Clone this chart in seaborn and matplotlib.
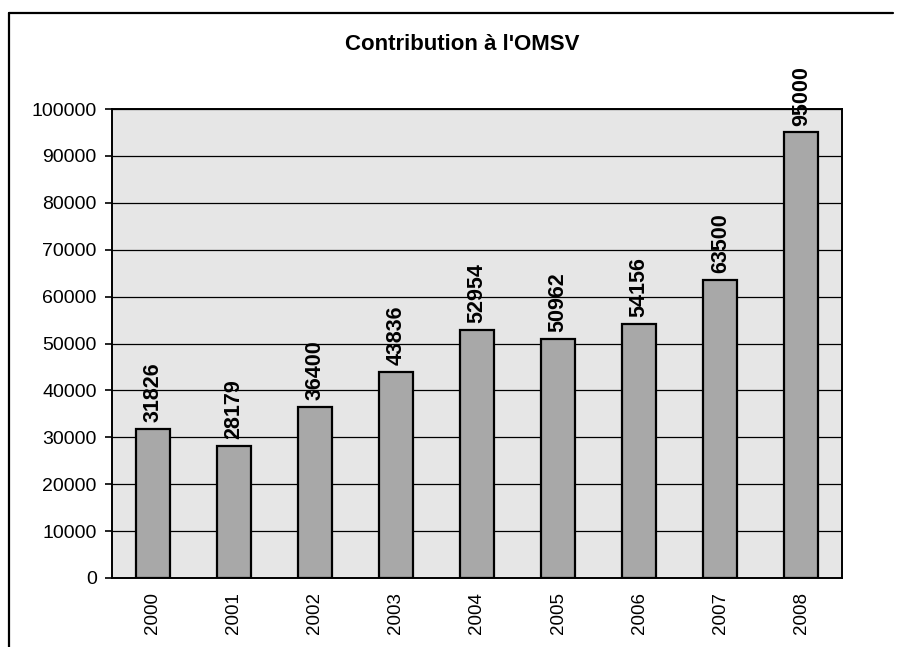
import pandas as pd
import matplotlib.pyplot as plt
import seaborn as sns
from matplotlib.lines import Line2D

years = ['2000', '2001', '2002', '2003', '2004', '2005', '2006', '2007', '2008']
contributions = [31826, 28179, 36400, 43836, 52954, 50962, 54156, 63500, 95000]
yticks = [0, 10000, 20000, 30000, 40000, 50000, 60000, 70000, 80000, 90000, 100000]


def plot_contributions():
    df = pd.DataFrame({'Year': years, 'Contribution': contributions})

    sns.set_style('white')
    plt.rcParams['font.family'] = ['Liberation Sans', 'DejaVu Sans']
    plt.rcParams['text.color'] = 'black'
    plt.rcParams['xtick.color'] = 'black'
    plt.rcParams['ytick.color'] = 'black'

    fig = plt.figure(figsize=(8.97, 6.47), dpi=100)
    ax = fig.add_axes([112 / 897, 69 / 647, 730 / 897, 469 / 647])
    ax.set_facecolor('#e6e6e6')

    sns.barplot(x='Year', y='Contribution', data=df, color='#a8a8a8',
                saturation=1, width=0.42, edgecolor='black', linewidth=1.6, ax=ax)

    # value labels above the bars, rotated
    for i, v in enumerate(contributions):
        ax.annotate(str(v), xy=(i, v), xytext=(0, 5), textcoords='offset points',
                    rotation=90, ha='center', va='bottom', color='black',
                    fontsize=15.5, fontweight='bold', annotation_clip=False)

    ax.set_ylim(0, 100000)
    ax.set_xlim(-0.5, len(years) - 0.5)
    ax.set_yticks(yticks)
    ax.set_yticklabels([str(t) for t in yticks], fontsize=14)
    ax.yaxis.grid(True, color='black', linewidth=0.9)
    ax.set_axisbelow(True)

    # year labels at the bars, tick marks between categories
    ax.set_xticks(range(len(years)))
    ax.set_xticklabels(years, rotation=90, fontsize=13.5)
    ax.set_xticks([i + 0.5 for i in range(-1, len(years))], minor=True)
    ax.tick_params(axis='x', which='major', length=0, pad=10)
    ax.tick_params(axis='x', which='minor', direction='out', length=5, width=1.2, color='black')
    ax.tick_params(axis='y', direction='out', length=5, width=1.2, color='black', left=True, pad=6)

    ax.set_xlabel('')
    ax.set_ylabel('')
    for side in ['left', 'bottom', 'right', 'top']:
        ax.spines[side].set_visible(True)
        ax.spines[side].set_color('black')
        ax.spines[side].set_linewidth(1.4)

    fig.text(462 / 897, 1 - 45 / 647, "Contribution à l'OMSV", ha='center', va='center',
             fontsize=16, fontweight='bold', color='black')

    # scanned frame around the chart (left and top edges)
    fig.add_artist(Line2D([9 / 897, 9 / 897], [0, 1 - 13 / 647], color='black', linewidth=1.6,
                          transform=fig.transFigure))
    fig.add_artist(Line2D([9 / 897, 893 / 897], [1 - 13 / 647, 1 - 13 / 647], color='black',
                          linewidth=1.6, transform=fig.transFigure))

    fig.savefig('out.png', dpi=100)
    plt.close(fig)


if __name__ == "__main__":
    plot_contributions()
